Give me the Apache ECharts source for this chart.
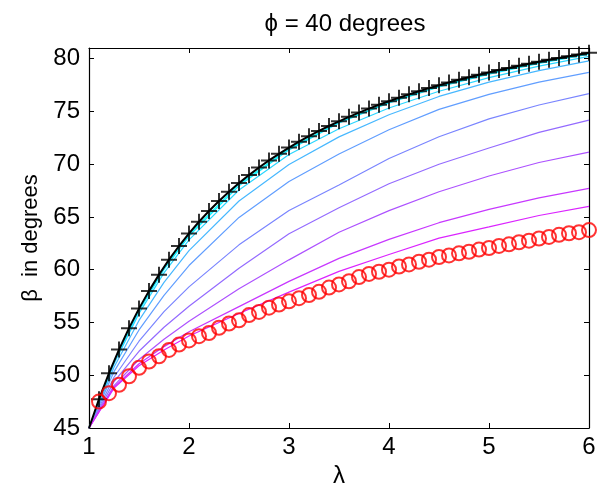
<!DOCTYPE html>
<html>
<head>
<meta charset="utf-8">
<script src="https://cdn.jsdelivr.net/npm/echarts@6/dist/echarts.min.js"></script>
<style>
html,body{margin:0;padding:0;background:#fff;}
#chart{width:603px;height:497px;}
</style>
</head>
<body>
<div id="chart"></div>
<script>
// ---- data ----
const titleText = 'ϕ = 40 degrees';
const xName = 'λ';
const yName = 'β  in degrees';
const xTicks = [1, 2, 3, 4, 5, 6];
const yTicks = [45, 50, 55, 60, 65, 70, 75, 80];

// black curve (solid line + "+" markers at λ = 1.1 ... 6.0)
const curveLambda = [1.0,1.1,1.2,1.3,1.4,1.5,1.6,1.7,1.8,1.9,2.0,2.1,2.2,2.3,2.4,2.5,2.6,2.7,2.8,2.9,3.0,3.1,3.2,3.3,3.4,3.5,3.6,3.7,3.8,3.9,4.0,4.1,4.2,4.3,4.4,4.5,4.6,4.7,4.8,4.9,5.0,5.1,5.2,5.3,5.4,5.5,5.6,5.7,5.8,5.9,6.0];
const blackValues = [45.00,47.73,50.19,52.43,54.46,56.31,57.99,59.53,60.95,62.24,63.43,64.54,65.56,66.50,67.38,68.20,68.96,69.68,70.35,70.97,71.57,72.12,72.65,73.14,73.61,74.05,74.48,74.88,75.26,75.62,75.96,76.29,76.61,76.91,77.20,77.47,77.74,77.99,78.23,78.47,78.69,78.91,79.11,79.31,79.51,79.70,79.88,80.05,80.22,80.38,80.54];

// red circles at λ = 1.1 ... 6.0
const redValues = [47.5,48.3,49.1,49.9,50.7,51.3,51.8,52.4,52.9,53.3,53.7,54.0,54.5,54.9,55.2,55.7,56.0,56.4,56.7,57.0,57.3,57.6,57.9,58.3,58.6,58.9,59.3,59.6,59.8,60.0,60.3,60.5,60.75,60.95,61.2,61.35,61.55,61.7,61.9,62.05,62.25,62.4,62.6,62.75,62.95,63.1,63.3,63.45,63.55,63.75];

// coloured curves (top = cyan ... bottom = magenta)
const lineLambda = [1, 1.25, 1.5, 1.75, 2, 2.5, 3, 3.5, 4, 4.5, 5, 5.5, 6];
const line0 = [45, 51.30, 56.22, 60.16, 63.33, 68.10, 71.47, 73.95, 75.86, 77.37, 78.59, 79.60, 80.50];
const line1 = [45, 51.23, 56.11, 60.02, 63.18, 67.94, 71.35, 73.90, 75.80, 77.31, 78.52, 79.55, 80.42];
const line2 = [45, 51.08, 55.86, 59.69, 62.82, 67.55, 70.91, 73.35, 75.32, 76.90, 78.19, 79.28, 80.20];
const line3 = [45, 50.76, 55.19, 58.79, 61.81, 66.51, 69.97, 72.58, 74.68, 76.41, 77.77, 78.86, 79.78];
const line4 = [45, 50.34, 54.29, 57.57, 60.39, 64.95, 68.36, 70.96, 73.25, 75.19, 76.61, 77.77, 78.69];
const line5 = [45, 49.81, 53.22, 56.02, 58.37, 62.35, 65.60, 68.02, 70.53, 72.59, 74.28, 75.60, 76.68];
const line6 = [45, 49.39, 52.27, 54.55, 56.54, 60.14, 63.41, 65.86, 68.14, 69.99, 71.53, 73.00, 74.16];
const line7 = [45, 49.02, 51.49, 53.41, 55.12, 58.19, 60.93, 63.54, 65.59, 67.38, 68.87, 70.15, 71.14];
const line8 = [45, 48.86, 51.09, 52.71, 54.11, 56.50, 58.89, 61.07, 62.87, 64.45, 65.71, 66.80, 67.70];
const line9 = [45, 48.78, 50.90, 52.39, 53.71, 55.85, 57.87, 59.84, 61.44, 62.99, 64.05, 65.13, 66.00];

// ---- styling ----
const lineColors = ['rgb(0,255,255)','rgb(20,235,255)','rgb(41,214,255)','rgb(71,184,255)','rgb(97,158,255)','rgb(122,133,255)','rgb(148,107,255)','rgb(173,82,255)','rgb(199,56,255)','rgb(219,36,255)'];
const FONT = '"Liberation Sans", Arial, "DejaVu Sans", sans-serif';

const zip = (xs, ys) => ys.map((y, i) => [xs[i], y]);
const allLines = [line0,line1,line2,line3,line4,line5,line6,line7,line8,line9];

const series = [];
allLines.forEach((vals, i) => {
  series.push({
    type: 'line', data: zip(lineLambda, vals), showSymbol: false, symbol: 'none',
    lineStyle: { color: lineColors[i], width: 1.2 }, z: 2, animation: false, silent: true
  });
});
series.push({
  type: 'line', data: zip(curveLambda, blackValues), symbol: 'none',
  lineStyle: { color: '#000', width: 2 }, z: 3, animation: false, silent: true
});
series.push({
  type: 'scatter', data: zip(curveLambda.slice(1), blackValues.slice(1)),
  symbol: 'path://M0,7H16V9H0Z M7,0H9V16H7Z', symbolSize: 16,
  itemStyle: { color: '#000' }, z: 4, animation: false, silent: true
});
series.push({
  type: 'scatter', data: zip(curveLambda.slice(1), redValues),
  symbol: 'circle', symbolSize: 14,
  itemStyle: { color: 'rgba(0,0,0,0)', borderColor: '#ff0000', borderWidth: 2 },
  z: 5, animation: false, silent: true
});

const axisCommon = {
  axisLine: { show: true, lineStyle: { color: '#000', width: 1.2 } },
  axisTick: { show: true, inside: true, length: 5, lineStyle: { color: '#000', width: 1 } },
  splitLine: { show: false }
};

const option = {
  backgroundColor: '#fff',
  animation: false,
  title: {
    text: titleText, left: 340, top: 7, textAlign: 'center',
    textStyle: { fontFamily: FONT, fontSize: 24, fontWeight: 'normal', color: '#000' }
  },
  grid: { left: 89, top: 48, width: 500, height: 380 },
  xAxis: [
    Object.assign({}, axisCommon, {
      type: 'value', min: xTicks[0], max: xTicks[xTicks.length - 1], interval: 1, position: 'bottom',
      name: xName, nameLocation: 'middle', nameGap: 26,
      nameTextStyle: { fontFamily: FONT, fontSize: 24, color: '#000' },
      axisLabel: { fontFamily: FONT, fontSize: 24, color: '#000', margin: 7 }
    }),
    Object.assign({}, axisCommon, {
      type: 'value', min: xTicks[0], max: xTicks[xTicks.length - 1], interval: 1, position: 'top',
      axisLabel: { show: false }
    })
  ],
  yAxis: [
    Object.assign({}, axisCommon, {
      type: 'value', min: yTicks[0], max: 81, interval: 5, position: 'left',
      name: yName, nameLocation: 'middle', nameGap: 42, nameRotate: 90,
      nameTextStyle: { fontFamily: FONT, fontSize: 22, color: '#000' },
      axisLabel: { fontFamily: FONT, fontSize: 24, color: '#000', margin: 9, showMaxLabel: false,
        formatter: v => (yTicks.indexOf(v) >= 0 ? String(v) : '') }
    }),
    Object.assign({}, axisCommon, {
      type: 'value', min: yTicks[0], max: 81, interval: 5, position: 'right',
      axisLabel: { show: false }
    })
  ],
  series: series
};

const chart = echarts.init(document.getElementById('chart'), null, { renderer: 'canvas' });
chart.setOption(option);
</script>
</body>
</html>
